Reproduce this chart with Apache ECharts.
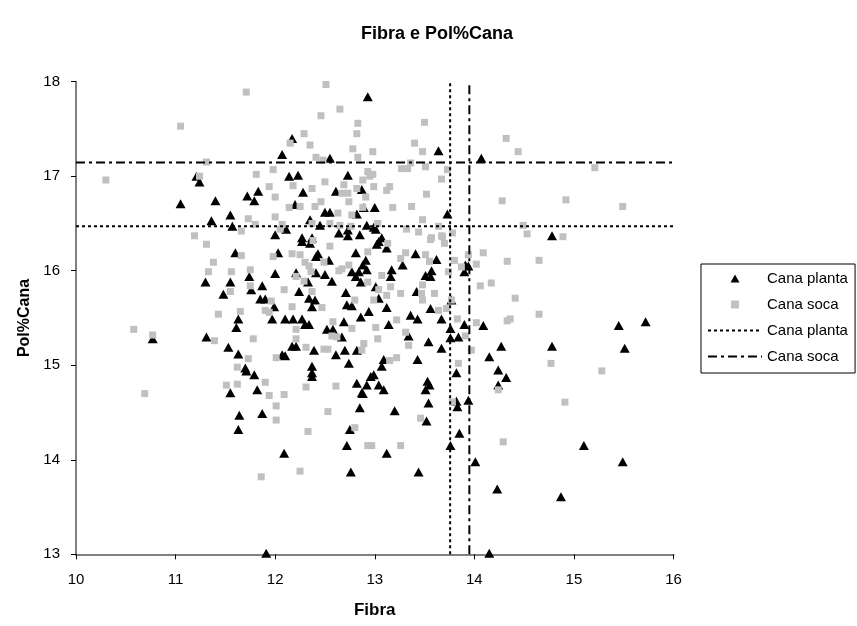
<!DOCTYPE html>
<html>
<head>
<meta charset="utf-8">
<script src="https://cdn.jsdelivr.net/npm/echarts@6/dist/echarts.min.js"></script>
<style>
  html, body { margin: 0; padding: 0; background: #fff; }
  #chart { width: 857px; height: 626px; }
</style>
</head>
<body>
<div id="chart"></div>
<script>
// Fibra (x) vs Pol%Cana (y) for each sample group
const planta = [
  [11.21,17.00],[11.24,16.94],[11.05,16.71],[11.40,16.74],[11.72,16.79],[11.83,16.84],[11.79,16.74],[11.55,16.59],
  [11.36,16.53],[11.57,16.47],[12.00,16.38],
  [12.93,17.84],[12.17,17.40],[12.07,17.23],[12.55,17.19],[13.64,17.27],[12.14,17.00],[12.23,17.01],[12.73,17.01],
  [12.28,16.83],[12.61,16.84],[12.87,16.86],[12.20,16.70],[12.50,16.62],[12.55,16.62],[12.82,16.60],[12.89,16.67],
  [13.00,16.67],[13.73,16.60],[12.35,16.54],[12.45,16.48],[12.73,16.43],[12.92,16.48],[12.99,16.46],[13.01,16.44],
  [12.11,16.44],[12.27,16.35],[12.37,16.35],[12.64,16.40],[12.73,16.37],[12.85,16.38],[13.07,16.35],
  [14.07,17.19],[14.78,16.37],
  [11.60,16.19],[12.03,16.19],[12.00,15.97],[11.30,15.88],[11.55,15.88],[11.74,15.94],[11.76,15.80],[11.87,15.84],
  [11.48,15.75],[11.85,15.70],[11.90,15.70],[11.99,15.62],[11.97,15.49],[11.63,15.49],[11.61,15.40],[10.77,15.28],
  [11.31,15.30],[11.53,15.19],[11.63,15.12],[11.70,14.97],[11.71,14.94],[11.79,14.90],[11.82,14.74],[11.55,14.71],
  [11.64,14.47],[11.87,14.49],[11.63,14.32],[11.91,13.01],
  [12.88,14.70],[12.85,14.55],[13.20,14.52],[13.54,14.60],[13.52,14.41],[12.75,14.32],[12.72,14.15],[12.09,14.07],
  [13.12,14.07],[12.76,13.87],[13.44,13.87],[13.76,14.15],[13.85,14.28],[14.01,13.98],[13.94,14.63],[13.83,14.56],
  [13.82,14.62],
  [15.10,14.15],[15.49,13.98],[14.23,13.69],[14.87,13.61],[14.15,13.01],
  [13.94,16.05],[14.09,15.42],[15.45,15.42],[15.72,15.46],[15.51,15.18],[14.27,15.20],[14.78,15.20],[14.15,15.09],
  [14.24,14.95],[14.32,14.87],[14.24,14.79],
  [12.27,16.31],[12.35,16.29],[13.04,16.31],[13.02,16.28],[13.12,16.24],[13.91,16.06],[13.90,15.99],
  [12.43,16.18],[12.41,16.15],[12.54,16.11],[12.81,16.19],[12.91,16.11],[12.88,16.06],[13.41,16.18],[13.28,16.06],
  [13.17,16.01],[13.62,16.12],[13.57,16.00],[13.51,15.95],[13.56,15.94],
  [12.21,15.98],[12.33,15.88],[12.41,15.98],[12.50,15.96],[12.57,15.89],[12.77,15.99],[12.84,15.99],[12.81,15.94],
  [12.92,16.01],[12.86,15.88],[13.16,15.94],
  [12.24,15.78],[12.34,15.71],[12.40,15.69],[12.37,15.62],[12.71,15.77],[12.72,15.64],[12.77,15.63],[13.01,15.83],
  [13.04,15.71],[13.12,15.61],[13.42,15.78],[13.77,15.69],[13.56,15.60],
  [12.10,15.49],[12.18,15.49],[12.27,15.49],[12.30,15.43],[12.34,15.43],[12.52,15.38],[12.58,15.38],[12.67,15.30],
  [12.69,15.46],[12.86,15.51],[12.94,15.57],[13.14,15.43],[13.36,15.53],[13.43,15.49],[13.67,15.49],[13.76,15.39],
  [13.76,15.29],[13.84,15.30],[13.90,15.43],[13.54,15.25],[13.67,15.18],[13.34,15.31],
  [12.17,15.20],[12.21,15.20],[12.39,15.16],[12.61,15.11],[12.70,15.16],[12.74,15.02],[12.82,15.16],[13.09,15.06],
  [13.07,14.99],[12.99,14.90],[12.96,14.88],[12.37,14.99],[12.37,14.92],[12.37,14.88],[13.43,15.06],[13.82,14.92],
  [12.07,15.11],[12.10,15.10],[12.82,14.81],[12.92,14.79],[13.04,14.79],[13.09,14.74],[12.87,14.71],[13.53,14.83],
  [13.55,14.79],[13.51,14.74]
];

const soca = [
  [11.71,17.89],[11.05,17.53],[11.31,17.15],[10.30,16.96],[11.24,17.00],[11.81,17.02],[11.98,17.07],[11.94,16.89],
  [12.00,16.78],[11.73,16.55],[11.80,16.49],[11.66,16.42],[11.19,16.37],[12.00,16.57],
  [12.51,17.97],[12.65,17.71],[12.46,17.64],[12.83,17.56],[13.50,17.57],[12.29,17.45],[12.15,17.35],[12.35,17.33],
  [12.82,17.45],[12.78,17.29],[12.98,17.26],[12.83,17.20],[12.41,17.20],[12.48,17.17],[13.40,17.35],[13.48,17.26],
  [13.36,17.14],[13.27,17.08],[13.33,17.08],[13.51,17.10],[13.73,17.07],[13.67,16.97],[13.52,16.81],[12.93,17.05],
  [12.98,17.02],[12.95,17.00],[12.88,16.96],[12.99,16.89],[12.50,16.94],[12.37,16.87],[12.18,16.90],[12.69,16.91],
  [12.73,16.82],[12.67,16.82],[12.82,16.87],[12.91,16.78],[13.15,16.89],[13.12,16.85],[12.74,16.73],[12.46,16.73],
  [12.40,16.68],[12.25,16.68],[12.14,16.67],[12.63,16.61],[12.77,16.59],[12.88,16.67],[13.18,16.67],[13.37,16.68],
  [13.48,16.54],[12.37,16.50],[12.55,16.50],[12.65,16.48],[12.76,16.47],[13.03,16.50],[12.07,16.49],[12.05,16.44],
  [13.32,16.44],[13.44,16.41],[13.64,16.47],[13.67,16.37],[13.78,16.40],[13.57,16.35],
  [14.32,17.40],[14.44,17.26],[15.21,17.09],[14.28,16.74],[14.92,16.75],[15.49,16.68],[14.49,16.48],[14.53,16.39],
  [14.89,16.36],
  [11.31,16.28],[11.66,16.16],[11.98,16.15],[11.38,16.09],[11.33,15.99],[11.56,15.99],[11.75,16.01],[11.55,15.78],
  [11.75,15.84],[11.96,15.68],[11.43,15.54],[11.65,15.57],[11.90,15.58],[11.94,15.56],[10.58,15.38],[10.77,15.32],
  [11.39,15.26],[11.78,15.28],[11.73,15.07],[12.01,15.08],[11.62,14.98],[11.90,14.82],[11.51,14.79],[11.62,14.80],
  [10.69,14.70],[11.94,14.68],
  [12.01,14.57],[12.01,14.42],[11.86,13.82],
  [12.09,14.69],[12.53,14.51],[13.46,14.44],[12.33,14.30],[12.80,14.34],[12.93,14.15],[12.97,14.15],[13.26,14.15],
  [12.25,13.88],[13.78,14.61],
  [14.24,14.74],[14.91,14.61],[14.29,14.19],
  [14.09,16.19],[13.94,16.17],[14.02,16.07],[14.33,16.10],[14.65,16.11],[14.06,15.84],[14.17,15.87],[14.41,15.71],
  [14.65,15.54],[14.02,15.45],[14.33,15.47],[14.36,15.49],[13.97,15.16],[14.77,15.02],[15.28,14.94],
  [12.55,16.26],[12.38,16.32],[13.13,16.29],[13.56,16.33],[13.68,16.36],[13.70,16.29],[13.80,16.11],[13.74,15.99],
  [13.87,16.04],[12.17,16.18],[12.25,16.17],[12.30,16.09],[12.34,16.05],[12.49,16.09],[12.64,16.00],[12.67,16.02],
  [12.74,16.06],[12.93,16.20],[13.31,16.19],[13.26,16.13],[13.51,16.17],[13.55,16.10],
  [12.21,15.94],[12.29,15.89],[12.36,15.99],[12.93,15.88],[13.07,15.95],[13.16,15.83],
  [12.09,15.80],[12.37,15.78],[12.17,15.62],[12.47,15.61],[12.80,15.69],[12.99,15.69],[13.04,15.80],[13.12,15.74],
  [13.26,15.76],[13.48,15.85],[13.47,15.76],[13.48,15.69],[13.60,15.76],[13.64,15.58],[13.72,15.60],[13.77,15.69],
  [12.58,15.46],[12.77,15.39],[13.01,15.40],[12.57,15.31],[12.62,15.30],[13.03,15.28],[13.22,15.48],[13.31,15.35],
  [13.34,15.21],[12.21,15.38],[12.21,15.28],[12.31,15.19],[12.49,15.17],[12.53,15.17],[12.89,15.23],[12.87,15.16],
  [13.15,15.05],[13.22,15.08],[13.84,15.02],[13.83,15.49],[13.91,15.31],[12.61,14.78],[12.31,14.77]
];

// Group means: [Fibra, Pol%Cana]
const plantaMean = [13.757, 16.47];
const socaMean = [13.95, 17.145];

// Axis ranges
const fibraRange = [10, 16];
const polRange = [13, 18];

const FONT = '"Liberation Sans", Arial, sans-serif';

function crossLines(name, mean, dash) {
  const style = { color: '#000', width: 2, type: dash };
  return [
    {
      name, type: 'line', symbol: 'none', silent: true, z: 5,
      lineStyle: style, itemStyle: { color: '#000' },
      data: [[fibraRange[0], mean[1]], [fibraRange[1], mean[1]]]
    },
    {
      name, type: 'line', symbol: 'none', silent: true, z: 5,
      lineStyle: style, itemStyle: { color: '#000' },
      data: [[mean[0], polRange[0]], [mean[0], polRange[1]]]
    }
  ];
}

const chart = echarts.init(document.getElementById('chart'), null, { renderer: 'canvas' });

chart.setOption({
  animation: false,
  backgroundColor: '#fff',
  textStyle: { fontFamily: FONT },
  title: {
    text: 'Fibra e Pol%Cana',
    left: 432, top: 20, textAlign: 'center',
    textStyle: { fontFamily: FONT, fontSize: 18, fontWeight: 'bold', color: '#000' }
  },
  grid: { left: 76, right: 183.5, top: 81.7, bottom: 71.7 },
  xAxis: {
    type: 'value', min: fibraRange[0], max: fibraRange[1], interval: 1,
    name: 'Fibra', nameLocation: 'middle', nameGap: 48,
    nameTextStyle: { fontFamily: FONT, fontSize: 17, fontWeight: 'bold', color: '#000' },
    axisLine: { show: true, onZero: false, lineStyle: { color: '#808080', width: 2 } },
    axisTick: { show: true, inside: false, length: 5, lineStyle: { color: '#000', width: 1 } },
    axisLabel: { margin: 18, fontFamily: FONT, fontSize: 15, color: '#000' },
    splitLine: { show: false }
  },
  yAxis: {
    type: 'value', min: polRange[0], max: polRange[1], interval: 1,
    name: 'Pol%Cana', nameLocation: 'middle', nameGap: 39, nameRotate: 90,
    nameTextStyle: { fontFamily: FONT, fontSize: 16, fontWeight: 'bold', color: '#000' },
    axisLine: { show: true, onZero: false, lineStyle: { color: '#808080', width: 2 } },
    axisTick: { show: true, inside: false, length: 5, lineStyle: { color: '#000', width: 1 } },
    axisLabel: { margin: 16, fontFamily: FONT, fontSize: 15, color: '#000' },
    splitLine: { show: false }
  },
  legend: {
    orient: 'vertical',
    left: 701, top: 264,
    padding: [6, 3, 8, 6],
    itemWidth: 54, itemHeight: 8, itemGap: 9,
    borderColor: '#000', borderWidth: 1,
    selectedMode: false,
    textStyle: { fontFamily: FONT, fontSize: 15, color: '#000', lineHeight: 17 },
    data: [
      { name: 'Cana planta', icon: 'path://M5,0 L10,9 L0,9 Z', itemStyle: { color: '#000' } },
      { name: 'Cana soca', icon: 'path://M0,0 L7,0 L7,7 L0,7 Z', itemStyle: { color: '#c0c0c0' } },
      { name: 'Cana planta ', itemStyle: { opacity: 0 } },
      { name: 'Cana soca ', itemStyle: { opacity: 0 } }
    ]
  },
  series: [
    {
      name: 'Cana planta', type: 'scatter', symbol: 'triangle', symbolSize: [10, 9],
      itemStyle: { color: '#000', opacity: 1 }, z: 2,
      data: planta
    },
    {
      name: 'Cana soca', type: 'scatter', symbol: 'rect', symbolSize: 7,
      itemStyle: { color: '#c0c0c0', opacity: 1 }, z: 3,
      data: soca
    },
    ...crossLines('Cana planta ', plantaMean, [3, 3]),
    ...crossLines('Cana soca ', socaMean, [9, 4, 3, 4])
  ]
});
</script>
</body>
</html>
